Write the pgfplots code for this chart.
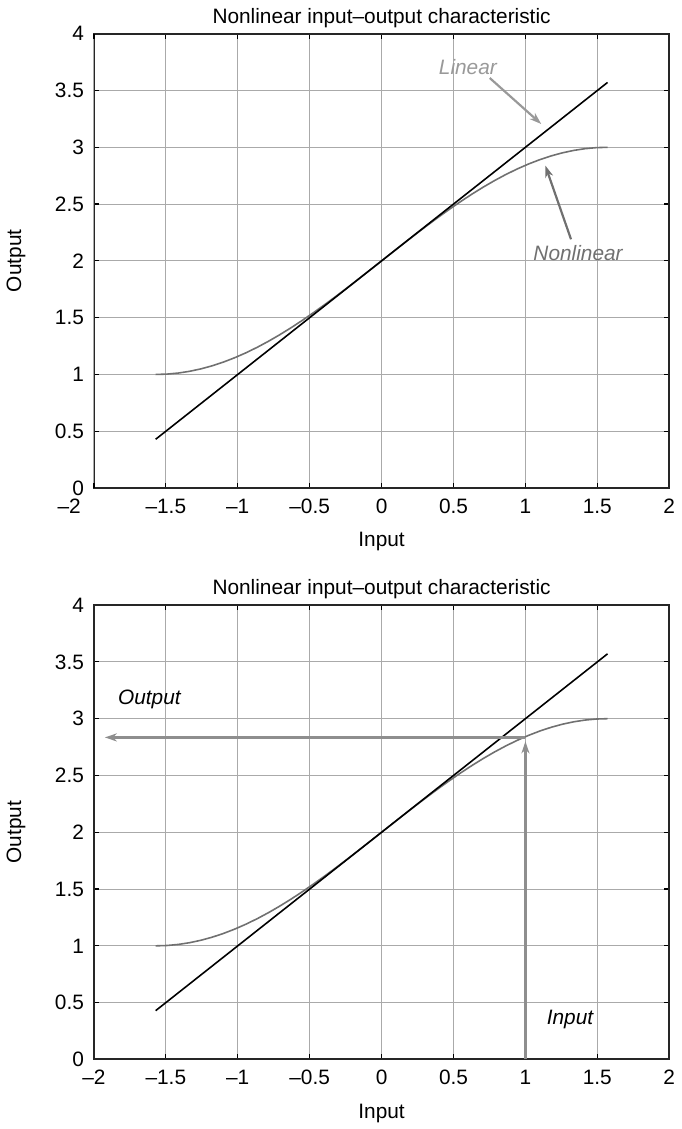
\documentclass[border=0pt]{standalone}
\usepackage{pgfplots}
\pgfplotsset{compat=1.18}
\usepackage{pgfplotstable}
\usepackage{fontspec}
\setmainfont{Liberation Sans}
\usetikzlibrary{arrows.meta}
\definecolor{nlgray}{HTML}{707070}
\definecolor{lgray}{HTML}{999999}
\definecolor{agray}{HTML}{8E8E8E}
\definecolor{gridgray}{HTML}{AAAAAA}
\tikzset{myarrow/.style={line width=1.1pt, -{Stealth[length=6pt,width=4pt,inset=1.8pt]}}}

\pgfplotstableread{
x y
-1.5708 1.00000
-1.4923 1.00308
-1.4137 1.01231
-1.3352 1.02763
-1.2566 1.04894
-1.1781 1.07612
-1.0996 1.10899
-1.0210 1.14736
-0.9425 1.19098
-0.8639 1.23959
-0.7854 1.29289
-0.7069 1.35055
-0.6283 1.41221
-0.5498 1.47750
-0.4712 1.54601
-0.3927 1.61732
-0.3142 1.69098
-0.2356 1.76655
-0.1571 1.84357
-0.0785 1.92154
0.0000 2.00000
0.0785 2.07846
0.1571 2.15643
0.2356 2.23345
0.3142 2.30902
0.3927 2.38268
0.4712 2.45399
0.5498 2.52250
0.6283 2.58779
0.7069 2.64945
0.7854 2.70711
0.8639 2.76041
0.9425 2.80902
1.0210 2.85264
1.0996 2.89101
1.1781 2.92388
1.2566 2.95106
1.3352 2.97237
1.4137 2.98769
1.4923 2.99692
1.5708 3.00000
}\nonlin
\pgfplotstableread{
x y
-1.5708 0.4292
1.5708 3.5708
}\lin

\pgfplotsset{
  myaxis/.style={
    scale only axis, width=290pt, height=229pt,
    xmin=-2, xmax=2, ymin=0, ymax=4,
    ytick={0,0.5,1,1.5,2,2.5,3,3.5,4},
    yticklabels={0,0.5,1,1.5,2,2.5,3,3.5,4},
    grid=major,
    major grid style={gridgray, line width=0.5pt},
    tick align=inside, tick pos=both,
    major tick length=2.5pt,
    every tick/.style={black, line width=0.6pt},
    axis line style={line width=1pt, black!85},
    ticklabel style={font=\fontsize{10.5}{12.5}\selectfont},
    label style={font=\fontsize{10.5}{12.5}\selectfont},
    title style={font=\fontsize{10.5}{12.5}\selectfont, yshift=-6.5pt},
    title={Nonlinear input–output characteristic},
    xlabel={Input}, ylabel={Output},
    yticklabel style={xshift=-1.5pt},
    xticklabel style={yshift=-2pt},
    xlabel style={yshift=-2.5pt},
    ylabel style={yshift=8pt},
  }
}

\begin{document}
\begin{tikzpicture}
\begin{axis}[myaxis, at={(0,288pt)},
  xtick={-1.5,-1,-0.5,0,0.5,1,1.5,2},
  xticklabels={–1.5,–1,–0.5,0,0.5,1,1.5,2},
  extra x ticks={-2}, extra x tick labels={–2},
  extra x tick style={xticklabel style={xshift=-12.5pt}}]
\addplot[nlgray, line width=0.8pt, no marks] table[x=x,y=y] {\nonlin};
\addplot[black, line width=0.8pt, no marks] table[x=x,y=y] {\lin};
\node[lgray, font=\fontsize{10.5}{12.5}\selectfont\itshape] at (axis cs:0.60,3.71) {Linear};
\draw[lgray, myarrow] (axis cs:0.752,3.61) -- (axis cs:1.11,3.205);
\node[nlgray, font=\fontsize{10.5}{12.5}\selectfont\itshape] at (axis cs:1.366,2.07) {Nonlinear};
\draw[nlgray, myarrow] (axis cs:1.317,2.19) -- (axis cs:1.138,2.84);
\end{axis}
\begin{axis}[myaxis, at={(0,0)},
  xtick={-2,-1.5,-1,-0.5,0,0.5,1,1.5,2},
  xticklabels={–2,–1.5,–1,–0.5,0,0.5,1,1.5,2}]
\addplot[nlgray, line width=0.8pt, no marks] table[x=x,y=y] {\nonlin};
\addplot[black, line width=0.8pt, no marks] table[x=x,y=y] {\lin};
\draw[agray, myarrow] (axis cs:1,0) -- (axis cs:1,2.80);
\draw[agray, myarrow] (axis cs:1,2.835) -- (axis cs:-1.924,2.835);
\node[black, font=\fontsize{10.5}{12.5}\selectfont\itshape] at (axis cs:-1.614,3.17) {Output};
\node[black, font=\fontsize{10.5}{12.5}\selectfont\itshape] at (axis cs:1.31,0.35) {Input};
\end{axis}
\path (0,-31pt) -- (0,534pt);
\end{tikzpicture}
\end{document}
